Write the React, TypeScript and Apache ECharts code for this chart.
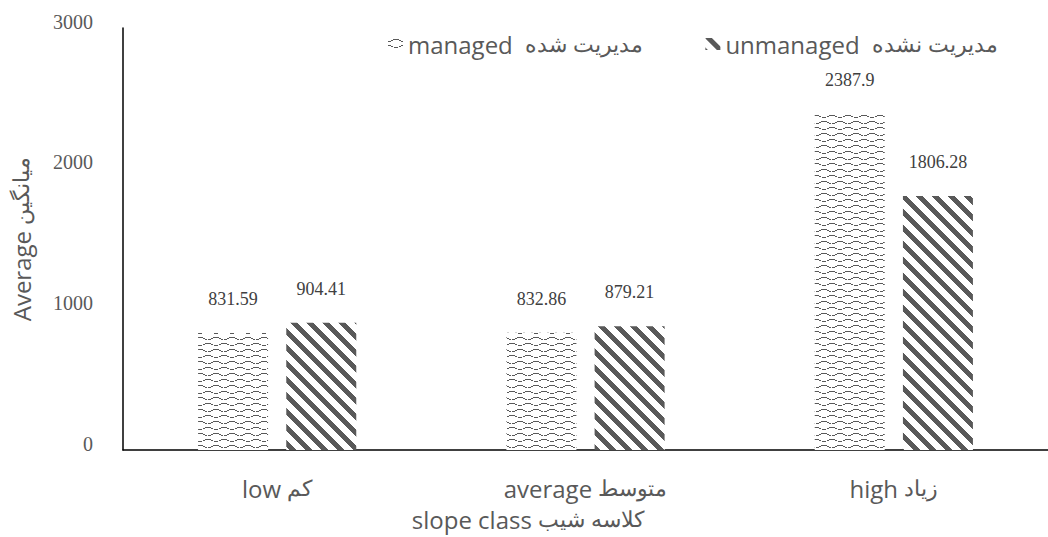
import React, { useEffect, useRef } from 'react';
import * as echarts from 'echarts';

const categoriesEn = ['low', 'average', 'high'];
const categoriesFa = ['کم', 'متوسط', 'زیاد'];
const categories = categoriesEn.map((e, i) => `${e} ${categoriesFa[i]}`);
const managedValues = [831.59, 832.86, 2387.9];
const unmanagedValues = [904.41, 879.21, 1806.28];
const seriesEn = ['managed', 'unmanaged'];
const seriesFa = ['مدیریت شده', 'مدیریت نشده'];
const seriesNames = seriesEn.map((e, i) => `${e} ${seriesFa[i]}`);
const yAxisTitleEn = 'Average';
const yAxisTitleFa = 'میانگین';
const xAxisTitleEn = 'slope class';
const xAxisTitleFa = 'کلاسه شیب';
const yMin = 0;
const yMax = 3000;
const yInterval = 1000;

const INK = '#595959';
const EN_FONT = 'Open Sans';

function makeTile(w: number, h: number, dark: (x: number, y: number) => boolean) {
  const c = document.createElement('canvas');
  c.width = w;
  c.height = h;
  const ctx = c.getContext('2d')!;
  ctx.fillStyle = '#ffffff';
  ctx.fillRect(0, 0, w, h);
  ctx.fillStyle = INK;
  for (let y = 0; y < h; y++) {
    for (let x = 0; x < w; x++) {
      if (dark(x, y)) ctx.fillRect(x, y, 1, 1);
    }
  }
  return { image: c, repeat: 'repeat', imageWidth: w, imageHeight: h } as any;
}

function wavePattern() {
  // two wave rows per tile, the second shifted by half a period
  const rows: Record<number, number[]> = {
    1: [5, 6, 7, 8, 9, 10],
    2: [3, 4, 11, 12],
    3: [0, 1, 2, 13, 14],
    7: [13, 14, 15, 0, 1, 2],
    8: [11, 12, 3, 4],
    9: [6, 7, 8, 9],
  };
  return makeTile(16, 12, (x, y) => {
    const r = rows[y];
    return !!r && r.includes(x);
  });
}

function stripePattern() {
  return makeTile(16, 16, (x, y) => {
    const d = (((x - y) % 16) + 16) % 16;
    return d < 7;
  });
}

const rich = {
  en: { fontFamily: EN_FONT, fontSize: 24, color: INK },
  fa: { fontSize: 22, color: INK },
};
const richGraphic = {
  en: { fontFamily: EN_FONT, fontSize: 24, fill: INK },
  fa: { fontSize: 22, fill: INK },
};

export default function App() {
  const ref = useRef<HTMLDivElement>(null);
  useEffect(() => {
    if (!ref.current) return;
    const chart = echarts.init(ref.current, undefined, { renderer: 'svg' });
    const wave = wavePattern();
    const stripe = stripePattern();
    const labelStyle = {
      show: true,
      position: 'top',
      distance: 25,
      fontFamily: 'Liberation Serif',
      fontSize: 18,
      color: '#404040',
    };
    chart.setOption({
      animation: false,
      backgroundColor: '#ffffff',
      legend: {
        left: 388,
        top: 32,
        padding: 0,
        icon: 'rect',
        itemWidth: 15,
        itemHeight: 12,
        itemGap: 62,
        textStyle: { color: INK, rich },
        formatter: (name: string) => {
          const i = seriesNames.indexOf(name);
          return `{en|${seriesEn[i]}  }{fa|${seriesFa[i]}}`;
        },
        data: seriesNames,
      },
      grid: { left: 123, top: 28, width: 936, height: 422, containLabel: false },
      xAxis: {
        type: 'category',
        data: categories,
        axisLine: { show: true, lineStyle: { color: '#000000', width: 1.5 } },
        axisTick: { show: false },
        axisLabel: {
          margin: 26,
          rich,
          formatter: (_v: string, i: number) => `{en|${categoriesEn[i]} }{fa|${categoriesFa[i]}}`,
        },
      },
      yAxis: {
        type: 'value',
        min: yMin,
        max: yMax,
        interval: yInterval,
        splitLine: { show: false },
        axisTick: { show: false },
        axisLine: { show: true, lineStyle: { color: '#000000', width: 1.5 } },
        axisLabel: {
          fontFamily: 'Liberation Serif',
          fontSize: 20,
          color: INK,
          margin: 30,
          verticalAlign: 'bottom',
          lineHeight: 13,
          formatter: (v: number) => String(v),
        },
        name: `{en|${yAxisTitleEn} }{fa|${yAxisTitleFa}}`,
        nameLocation: 'middle',
        nameGap: 90,
        nameTextStyle: { rich },
      },
      graphic: [
        {
          type: 'text',
          x: 528,
          y: 519,
          style: {
            text: `{en|${xAxisTitleEn} }{fa|${xAxisTitleFa}}`,
            rich: richGraphic,
            fill: INK,
            align: 'center',
            verticalAlign: 'middle',
          },
        },
      ],
      series: [
        {
          name: seriesNames[0],
          type: 'bar',
          data: managedValues,
          barWidth: 70,
          barGap: '26%',
          itemStyle: { color: wave },
          label: labelStyle,
        },
        {
          name: seriesNames[1],
          type: 'bar',
          data: unmanagedValues,
          barWidth: 70,
          itemStyle: { color: stripe },
          label: labelStyle,
        },
      ],
    });
    return () => chart.dispose();
  }, []);
  return (
    <div
      ref={ref}
      style={{ position: 'absolute', left: 0, top: 0, width: 1048, height: 537 }}
    />
  );
}
